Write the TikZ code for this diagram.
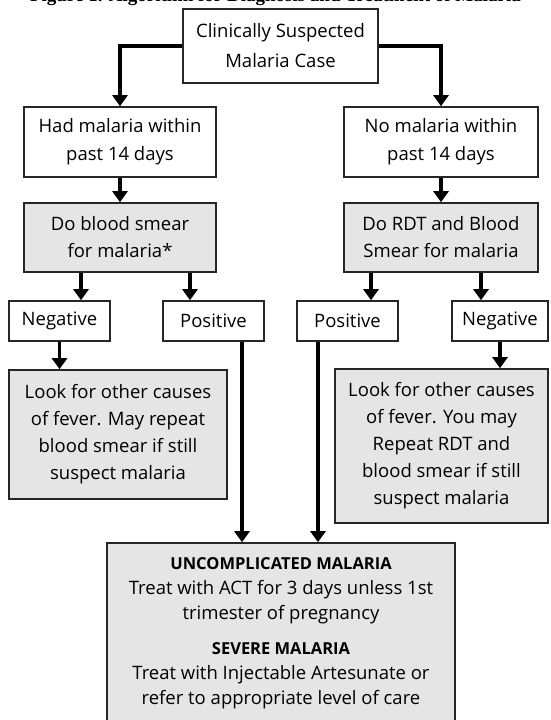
\documentclass[tikz,border=0pt]{standalone}
\usepackage{fontspec}
\setmainfont{Open Sans}
\newfontfamily\titlefont{Liberation Serif}
\usetikzlibrary{arrows.meta}

\begin{document}
\begin{tikzpicture}[x=1pt,y=-1pt,
  box/.style={draw=black!85, line width=1.6pt, align=center, inner sep=0pt,
    font=\fontsize{18.5}{27}\selectfont},
  graybox/.style={box, fill=black!10},
  flow/.style={line width=3.2pt, -{Triangle[width=15pt,length=11pt]}},
  head/.style={font=\bfseries\fontsize{16.5}{23}\selectfont}]
\useasboundingbox (0,0) rectangle (551,720);
\fill[white] (0,0) rectangle (551,720);

% title, cut off by the page edge
\node[anchor=base, font=\titlefont\bfseries\fontsize{19}{20}\selectfont] (title) at (275.5,1.5)
  {Figure 1. Algorithm for Diagnosis and Treatment of Malaria};

% first two levels
\node[box, minimum width=195pt, minimum height=74pt, font=\fontsize{18.5}{30}\selectfont] (suspect) at (280.5,46)
  {Clinically Suspected\\Malaria Case};
\node[box, minimum width=192pt, minimum height=70pt, font=\fontsize{18.5}{28}\selectfont] (had) at (120,142) {Had malaria within\\past 14 days};
\node[box, minimum width=194pt, minimum height=70pt, font=\fontsize{18.5}{28}\selectfont] (nomal) at (441,142) {No malaria within\\past 14 days};

\node[graybox, minimum width=192pt, minimum height=69pt] (smear) at (120,237.5) {Do blood smear\\for malaria*};
\node[graybox, minimum width=194pt, minimum height=69pt] (rdt) at (441,237.5) {Do RDT and Blood\\Smear for malaria};

% results
\node[box, minimum width=101pt, minimum height=40pt] (negL) at (59.5,321) {Negative};
\node[box, minimum width=101pt, minimum height=40pt] (posL) at (213.5,321) {Positive};
\node[box, minimum width=101pt, minimum height=40pt] (posR) at (347.5,321) {Positive};
\node[box, minimum width=96pt, minimum height=40pt] (negR) at (500,321) {Negative};

\node[graybox, minimum width=218pt, minimum height=129pt] (lookL) at (118,434.5)
  {Look for other causes\\of fever. May repeat\\blood smear if still\\suspect malaria};
\node[graybox, minimum width=213pt, minimum height=154pt] (lookR) at (441.5,446)
  {Look for other causes\\of fever. You may\\Repeat RDT and\\blood smear if still\\suspect malaria};

% treatment, cut off at the bottom
\node[graybox, minimum width=348pt, minimum height=180pt, font=\fontsize{18.5}{25}\selectfont] (treat) at (281,633)
  {{\bfseries\fontsize{16.5}{23}\selectfont UNCOMPLICATED MALARIA}\\
   Treat with ACT for 3 days unless 1st\\
   trimester of pregnancy\\[10pt]
   {\bfseries\fontsize{16.5}{23}\selectfont SEVERE MALARIA}\\
   Treat with Injectable Artesunate or\\
   refer to appropriate level of care};

% columns of the arrows
\coordinate (c1) at (81,0);
\coordinate (c2) at (190,0);
\coordinate (c3) at (242,0);
\coordinate (c4) at (318,0);
\coordinate (c5) at (371,0);
\coordinate (c6) at (481,0);

\draw[flow] (suspect.west) -| (had.north);
\draw[flow] (suspect.east) -| (nomal.north);
\draw[flow] (had) -- (smear);
\draw[flow] (nomal) -- (rdt);

\draw[flow] (smear.south -| c1) -- (negL.north -| c1);
\draw[flow] (smear.south -| c2) -- (posL.north -| c2);
\draw[flow] (rdt.south -| c5) -- (posR.north -| c5);
\draw[flow] (rdt.south -| c6) -- (negR.north -| c6);

\draw[flow] (negL) -- (negL |- lookL.north);
\draw[flow] (negR) -- (negR |- lookR.north);

\draw[flow] (posL.south -| c3) -- (treat.north -| c3);
\draw[flow] (posR.south -| c4) -- (treat.north -| c4);

\end{tikzpicture}
\end{document}
